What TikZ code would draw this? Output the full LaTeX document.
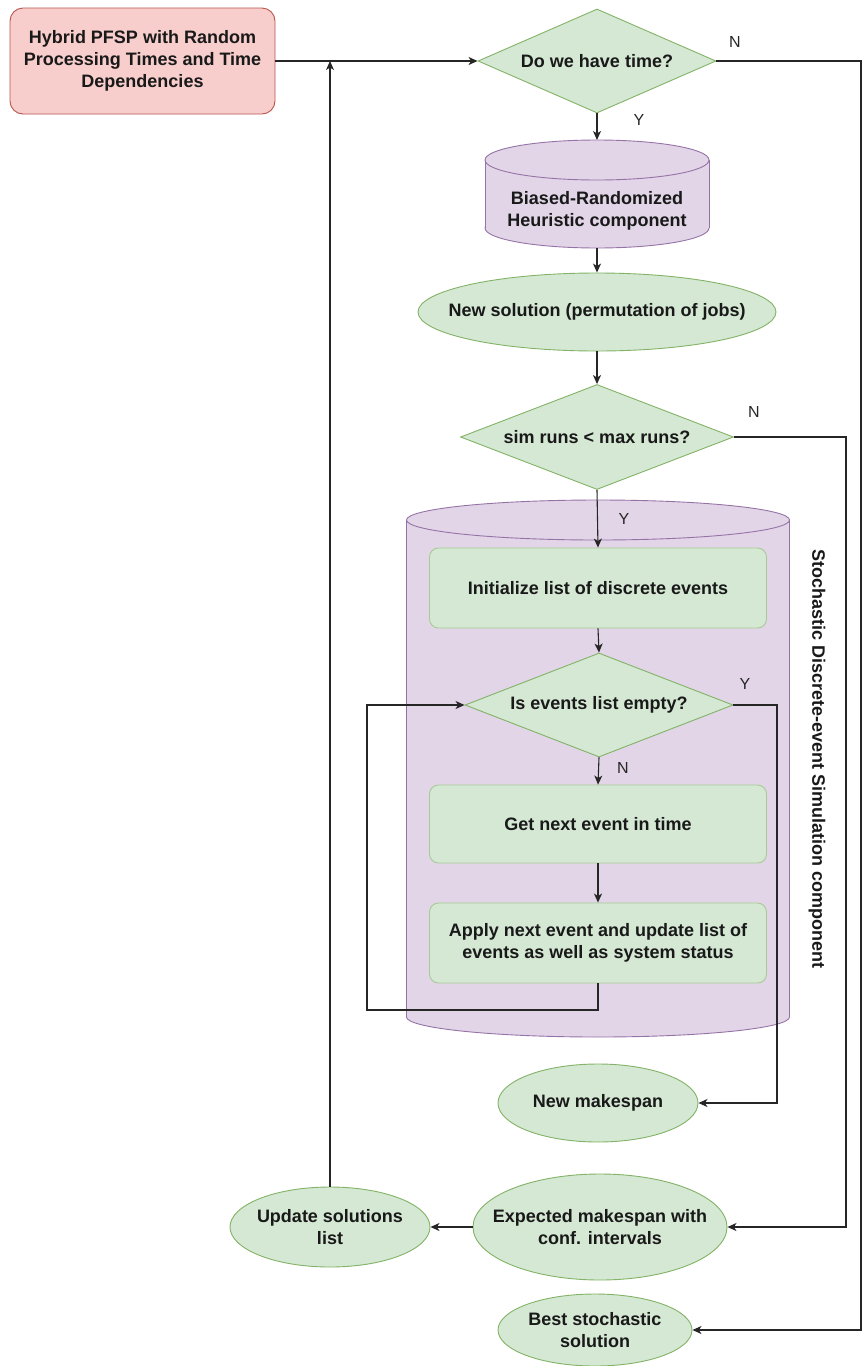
\documentclass[tikz,border=0pt]{standalone}
\usepackage{fontspec}
\setmainfont{Liberation Sans}
\usetikzlibrary{shapes.geometric,arrows.meta}
\definecolor{pinkF}{HTML}{F8CECC}
\definecolor{pinkD}{HTML}{B85450}
\definecolor{grnF}{HTML}{D5E8D4}
\definecolor{grnD}{HTML}{82B366}
\definecolor{purF}{HTML}{E1D5E7}
\definecolor{purD}{HTML}{9673A6}
\begin{document}
\begin{tikzpicture}[x=1pt,y=-1pt,
 txt/.style={font=\fontsize{18}{22}\selectfont\bfseries, align=center, text=black!90},
 lbl/.style={font=\fontsize{16}{19}\selectfont, text=black!85},
 arr/.style={draw=black!85, line width=1.1pt, -{Stealth[length=9pt,width=8pt,inset=2.5pt]}},
 ln/.style={draw=black!85, line width=1.1pt},
 startbox/.style={rectangle, rounded corners=13pt, fill=pinkF, draw=pinkD, line width=0.9pt, inner sep=0pt},
 dia/.style={diamond, fill=grnF, draw=grnD, line width=0.9pt, inner sep=0pt},
 ell/.style={ellipse, fill=grnF, draw=grnD, line width=0.9pt, inner sep=0pt},
 rbox/.style={rectangle, rounded corners=9pt, fill=grnF, draw=grnD!70, line width=0.9pt, inner sep=0pt, minimum width=337pt, txt},
 cyl/.style={fill=purF, draw=purD, line width=0.9pt},
]
\useasboundingbox (0,0) rectangle (864,1366);

% big simulation cylinder
\filldraw[cyl] (598,1017) ellipse [x radius=191.5, y radius=20];
\fill[purF] (406.5,520) rectangle (789.5,1017);
\draw[purD, line width=0.9pt] (406.5,520) -- (406.5,1017) (789.5,520) -- (789.5,1017);
\filldraw[cyl] (598,520) ellipse [x radius=191.5, y radius=20];
\node[txt, rotate=-90] (simlbl) at (817,759) {Stochastic Discrete-event Simulation component};

% heuristic cylinder
\filldraw[cyl] (597,228) ellipse [x radius=112, y radius=20];
\fill[purF] (485,160) rectangle (709,228);
\draw[purD, line width=0.9pt] (485,160) -- (485,228) (709,160) -- (709,228);
\filldraw[cyl] (597,160) ellipse [x radius=112, y radius=20];
\node[txt] (c1) at (597,211) {Biased-Randomized\\Heuristic component};
\coordinate (c1top) at (597,140);
\coordinate (c1bot) at (597,248);

% nodes
\node[startbox, minimum width=265pt, minimum height=106pt, txt] (start) at (142.5,61)
  {Hybrid PFSP with Random\\Processing Times and Time\\Dependencies};
\node[dia, minimum width=238pt, minimum height=104pt, label={[txt]center:{Do we have time?}}] (d1) at (597,61) {};
\node[ell, minimum width=358pt, minimum height=78pt, label={[txt]center:{New solution (permutation of jobs)}}] (e1) at (597,312) {};
\node[dia, minimum width=273pt, minimum height=105pt, label={[txt]center:{sim runs < max runs?}}] (d2) at (597,437) {};
\node[rbox, minimum height=80pt] (r1) at (598,588) {Initialize list of discrete events};
\node[dia, minimum width=268pt, minimum height=104pt, label={[txt]center:{Is events list empty?}}] (d3) at (599,705) {};
\node[rbox, minimum height=78pt] (r2) at (598,824) {Get next event in time};
\node[rbox, minimum height=80pt] (r3) at (598,943) {Apply next event and update list of\\events as well as system status};
\node[ell, minimum width=200pt, minimum height=78pt, label={[txt]center:{New makespan}}] (e2) at (598,1103) {};
\node[ell, minimum width=254pt, minimum height=106pt, label={[txt]center:{Expected makespan with\\conf. intervals}}] (e3) at (600,1227) {};
\node[ell, minimum width=200pt, minimum height=80pt, label={[txt]center:{Update solutions\\list}}] (e4) at (330,1227) {};
\node[ell, minimum width=194pt, minimum height=72pt, label={[txt]center:{Best stochastic\\solution}}] (e5) at (595,1330) {};

% helper coordinates
\coordinate (j1) at (330,61);
\coordinate (rt) at (861,61);
\coordinate (r2c) at (846,437);
\coordinate (r3c) at (777,705);
\coordinate (lb) at (598,1010);
\coordinate (ll) at (367,1010);

% connectors
\draw[arr] (start.east) -- (d1.west);
\draw[arr] (e4.north) -- (j1);
\draw[arr] (d1.east) -- (rt) |- (e5.east);
\draw[arr] (d1.south) -- (c1top);
\draw[arr] (c1bot) -- (e1.north);
\draw[arr] (e1.south) -- (d2.north);
\draw[arr] (d2.east) -- (r2c) |- (e3.east);
\draw[arr] (d2.south) -- (r1.north);
\draw[arr] (r1.south) -- (d3.north);
\draw[arr] (d3.east) -- (r3c) |- (e2.east);
\draw[arr] (d3.south) -- (r2.north);
\draw[arr] (r2.south) -- (r3.north);
\draw[arr] (r3.south) -- (lb) -- (ll) |- (d3.west);
\draw[arr] (e3.west) -- (e4.east);

% Y / N labels
\node[lbl] (n1) at (735,42) {N};
\node[lbl] (y1) at (639,120) {Y};
\node[lbl] (n2) at (754,412) {N};
\node[lbl] (y2) at (624,519) {Y};
\node[lbl] (y3) at (745,684) {Y};
\node[lbl] (n3) at (623,768) {N};
\end{tikzpicture}
\end{document}
